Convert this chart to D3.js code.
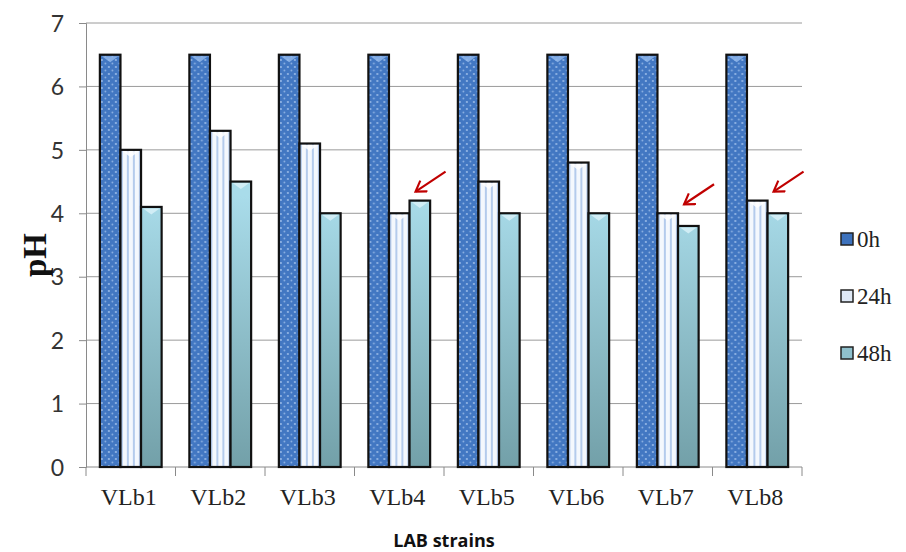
<!DOCTYPE html>
<html>
<head>
<meta charset="utf-8">
<title>pH of LAB strains</title>
<script src="https://cdn.jsdelivr.net/npm/d3@7/dist/d3.min.js"></script>
<style>
  body { margin: 0; background: #fff; }
</style>
</head>
<body>
<div id="chart"></div>
<script>
// data
var strains = ["VLb1", "VLb2", "VLb3", "VLb4", "VLb5", "VLb6", "VLb7", "VLb8"];
var series = ["0h", "24h", "48h"];
var ph0h  = [6.5, 6.5, 6.5, 6.5, 6.5, 6.5, 6.5, 6.5];
var ph24h = [5.0, 5.3, 5.1, 4.0, 4.5, 4.8, 4.0, 4.2];
var ph48h = [4.1, 4.5, 4.0, 4.2, 4.0, 4.0, 3.8, 4.0];
var yTicks = [0, 1, 2, 3, 4, 5, 6, 7];
var marked = ["VLb4", "VLb7", "VLb8"];   // red arrows

var serif = "'Liberation Serif', 'DejaVu Serif', serif";
var sans = "Lato, 'Open Sans', sans-serif";

var width = 906, height = 552;
var margin = { top: 23, right: 104, bottom: 85, left: 86 };
var w = width - margin.left - margin.right;
var h = height - margin.top - margin.bottom;

var svg = d3.select("#chart").append("svg")
  .attr("width", width)
  .attr("height", height);

var defs = svg.append("defs");

// 0h: blue with white dots
var p0 = defs.append("pattern").attr("id", "pat0")
  .attr("patternUnits", "userSpaceOnUse").attr("width", 7).attr("height", 7);
p0.append("rect").attr("width", 7).attr("height", 7).attr("fill", "#4277c2");
p0.append("circle").attr("cx", 2).attr("cy", 2).attr("r", 0.9).attr("fill", "#a9c6ee");
p0.append("circle").attr("cx", 5.5).attr("cy", 5.5).attr("r", 0.9).attr("fill", "#8fb3e4");

// 24h: white with light blue vertical stripes
var p1 = defs.append("pattern").attr("id", "pat1")
  .attr("patternUnits", "userSpaceOnUse").attr("width", 6).attr("height", 6);
p1.append("rect").attr("width", 6).attr("height", 6).attr("fill", "#f4f8fd");
p1.append("rect").attr("x", 3).attr("width", 2).attr("height", 6).attr("fill", "#b4cbec");

// 48h: light cyan to grey-teal
var g2 = defs.append("linearGradient").attr("id", "grad2")
  .attr("gradientUnits", "userSpaceOnUse")
  .attr("x1", 0).attr("x2", 0).attr("y1", margin.top + 150).attr("y2", margin.top + h);
g2.append("stop").attr("offset", "0%").attr("stop-color", "#a9dcea");
g2.append("stop").attr("offset", "100%").attr("stop-color", "#6e9ba3");

var fills = ["url(#pat0)", "url(#pat1)", "url(#grad2)"];
var legendFills = ["#3d72bd", "#dfe9f6", "#8fc0cc"];

defs.append("marker").attr("id", "arrowhead")
  .attr("viewBox", "0 0 10 10").attr("refX", 8).attr("refY", 5)
  .attr("markerWidth", 6.5).attr("markerHeight", 6.5).attr("orient", "auto")
  .append("path").attr("d", "M1,0.5 L8,5 L1,9.5")
  .attr("fill", "none").attr("stroke", "#c00000").attr("stroke-width", 1.5);

var g = svg.append("g")
  .attr("transform", "translate(" + margin.left + "," + margin.top + ")");

var x0 = d3.scaleBand().domain(strains).range([0, w]).paddingInner(0.31).paddingOuter(0.155);
var x1 = d3.scaleBand().domain(series).range([0, x0.bandwidth()]);
var y = d3.scaleLinear().domain([0, 7]).range([h, 0]);

// gridlines
g.append("g").selectAll("line").data(yTicks.slice(1)).join("line")
  .attr("x1", 0).attr("x2", w)
  .attr("y1", d => y(d)).attr("y2", d => y(d))
  .attr("stroke", "#9a9a9a").attr("stroke-width", 1);

// y axis
var yAxis = g.append("g")
  .call(d3.axisLeft(y).tickValues(yTicks).tickSize(7).tickPadding(15).tickFormat(d3.format("d")));
yAxis.select(".domain").attr("stroke", "#8a8a8a");
yAxis.selectAll(".tick line").attr("stroke", "#8a8a8a");
yAxis.attr("font-family", sans).attr("font-size", 23);
yAxis.selectAll("text").attr("fill", "#333").attr("dy", "0.36em");

// x axis: ticks on category boundaries
var bounds = d3.range(strains.length + 1).map(i => i * x0.step());
var xAxis = g.append("g").attr("transform", "translate(0," + h + ")");
xAxis.append("line").attr("x1", 0).attr("x2", w).attr("stroke", "#8a8a8a");
xAxis.selectAll(".bt").data(bounds).join("line").attr("class", "bt")
  .attr("x1", d => d).attr("x2", d => d).attr("y1", 0).attr("y2", 9)
  .attr("stroke", "#8a8a8a");
xAxis.selectAll("text").data(strains).join("text")
  .attr("x", d => x0(d) + x0.bandwidth() / 2 - 2)
  .attr("y", 38)
  .attr("text-anchor", "middle")
  .attr("font-family", serif).attr("font-size", 24).attr("fill", "#222")
  .text(d => d);

// bars
var rows = strains.map((s, i) => ({ strain: s, values: [ph0h[i], ph24h[i], ph48h[i]] }));
var groups = g.append("g").selectAll("g").data(rows).join("g")
  .attr("transform", d => "translate(" + x0(d.strain) + ",0)");

groups.selectAll("rect").data(d => d.values.map((v, k) => ({ key: series[k], k: k, v: v })))
  .join("rect")
  .attr("x", d => x1(d.key))
  .attr("y", d => y(d.v))
  .attr("width", x1.bandwidth())
  .attr("height", d => h - y(d.v))
  .attr("fill", d => fills[d.k])
  .attr("stroke", "#111")
  .attr("stroke-width", 2.2);

// small bevel triangle on top of the bars
var bevel = ["#8fb6ea", "#ffffff", "#d8f1f8"];
groups.selectAll("path.bev").data(d => d.values.map((v, k) => ({ key: series[k], k: k, v: v })))
  .join("path").attr("class", "bev")
  .attr("d", d => {
    var xl = x1(d.key) + 2, xr = x1(d.key) + x1.bandwidth() - 2, yt = y(d.v) + 1.5;
    return "M" + xl + "," + yt + "L" + xr + "," + yt + "L" + (xl + xr) / 2 + "," + (yt + 6) + "Z";
  })
  .attr("fill", d => bevel[d.k]).attr("opacity", 0.85);

// red arrows
marked.forEach(function (s) {
  var i = strains.indexOf(s);
  var tx = x0(s) + x1("48h") + 6;
  var ty = y(Math.max(ph24h[i], ph48h[i])) - 9;
  g.append("line")
    .attr("x1", tx + 30).attr("y1", ty - 20)
    .attr("x2", tx).attr("y2", ty)
    .attr("stroke", "#c00000").attr("stroke-width", 2.2)
    .attr("marker-end", "url(#arrowhead)");
});

// y title
svg.append("text")
  .attr("transform", "translate(46," + (margin.top + h / 2 + 10) + ") rotate(-90)")
  .attr("text-anchor", "middle")
  .attr("font-family", serif)
  .attr("font-weight", "bold").attr("font-size", 33)
  .attr("fill", "#111")
  .text("pH");

// x title
svg.append("text")
  .attr("x", 444).attr("y", 547)
  .attr("text-anchor", "middle")
  .attr("font-family", "'Open Sans', sans-serif")
  .attr("font-weight", "bold").attr("font-size", 18)
  .attr("fill", "#111")
  .text("LAB strains");

// legend
var legend = svg.append("g").attr("transform", "translate(841,233)");
var li = legend.selectAll("g").data(series).join("g")
  .attr("transform", (d, i) => "translate(0," + i * 57 + ")");
li.append("rect").attr("x", 0).attr("y", 0).attr("width", 12).attr("height", 12)
  .attr("fill", (d, i) => legendFills[i]).attr("stroke", "#222").attr("stroke-width", 1.5);
li.append("text").attr("x", 16).attr("y", 14)
  .attr("font-family", serif)
  .attr("font-size", 23).attr("fill", "#222")
  .text(d => d);
</script>
</body>
</html>
